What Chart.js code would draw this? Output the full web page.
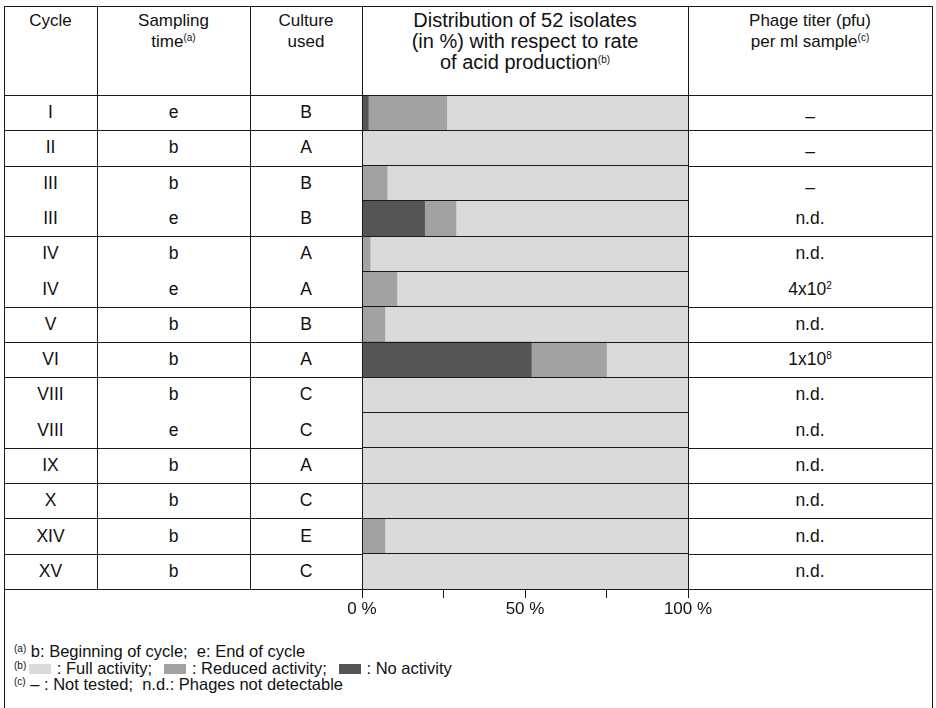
<!DOCTYPE html>
<html>
<head>
<meta charset="utf-8">
<script src="https://cdn.jsdelivr.net/npm/chart.js@4/dist/chart.umd.min.js"></script>
<style>
  html, body { margin: 0; padding: 0; background: #fff; }
  body { width: 936px; height: 708px; position: relative; overflow: hidden;
         font-family: "Liberation Sans", Arial, Helvetica, sans-serif; color: #111; }
  .ln { position: absolute; background: #1a1a1a; }
  .cell { position: absolute; text-align: center; font-size: 17.5px; line-height: 21px; white-space: nowrap; }
  .hd { position: absolute; text-align: center; font-size: 17px; line-height: 21px; white-space: nowrap; }
  .hd.big { font-size: 20px; }
  sup { font-size: 10px; line-height: 0; vertical-align: 6px; }
  .dash { position: relative; top: 4px; }
  #chart-wrap { position: absolute; left: 322px; top: 93px; width: 406px; height: 536px; }
  .notes { position: absolute; left: 14px; top: 643px; font-size: 16.5px; line-height: 16.5px; white-space: nowrap; }
  .notes sup { font-size: 10px; vertical-align: 5px; }
  .sw { display: inline-block; width: 22px; height: 10px; vertical-align: 0px; margin: 0 1px 0 3px; }
</style>
</head>
<body>
<div id="table"></div>
<div id="chart-wrap"><canvas id="chart-dist" width="406" height="536"></canvas></div>
<div class="notes" id="notes"></div>

<script>
// ---- Data ----

const cycles   = ['I', 'II', 'III', 'III', 'IV', 'IV', 'V', 'VI', 'VIII', 'VIII', 'IX', 'X', 'XIV', 'XV']
const sampling = ['e', 'b', 'b', 'e', 'b', 'e', 'b', 'b', 'b', 'e', 'b', 'b', 'b', 'b']
const culture  = ['B', 'A', 'B', 'B', 'A', 'A', 'B', 'A', 'C', 'C', 'A', 'C', 'E', 'C']
const phageTiter = ['–', '–', '–', 'n.d.', 'n.d.', '4x10^2', 'n.d.', '1x10^8', 'n.d.', 'n.d.', 'n.d.', 'n.d.', 'n.d.', 'n.d.']

// % of 52 isolates
const noActivity      = [1.9, 0, 0, 19.2, 0, 0, 0, 51.9, 0, 0, 0, 0, 0, 0]
const reducedActivity = [24.1, 0, 7.7, 9.6, 2.5, 10.7, 7.0, 23.1, 0, 0, 0, 0, 7.0, 0]
const fullActivity    = [74.0, 100, 92.3, 71.2, 97.5, 89.3, 93.0, 25.0, 100, 100, 100, 100, 93.0, 100]

const xTicks = [0, 25, 50, 75, 100]
const xTickLabels = ['0 %', '', '50 %', '', '100 %']

const colors = { full: '#dadada', reduced: '#a2a2a2', none: '#555555' }

// ---- Table layout ----

const TOP = 6, HEAD_BOTTOM = 95, ROW_H = 35.29
const COLS = [4, 97, 250, 362, 688, 932]
const rowTop = i => HEAD_BOTTOM + i * ROW_H
const TABLE_BOTTOM = rowTop(cycles.length)

const table = document.getElementById('table')

function addLine(x, y, w, h) {
  const d = document.createElement('div')
  d.className = 'ln'
  d.style.cssText = `left:${x}px;top:${y}px;width:${w}px;height:${h}px`
  table.appendChild(d)
}

function addText(cls, x1, x2, y, html) {
  const d = document.createElement('div')
  d.className = cls
  d.style.cssText = `left:${x1}px;width:${x2 - x1}px;top:${y}px`
  d.innerHTML = html
  table.appendChild(d)
}

// outer frame + column dividers
addLine(COLS[0], TOP, COLS[5] - COLS[0] + 1, 1)
addLine(COLS[0], TOP, 1, 708 - TOP)
addLine(COLS[5], TOP, 1, 708 - TOP)
for (const x of COLS.slice(1, 5)) addLine(x, TOP, 1, TABLE_BOTTOM - TOP)
addLine(COLS[0], HEAD_BOTTOM, COLS[5] - COLS[0], 1)
addLine(COLS[0], Math.round(TABLE_BOTTOM), COLS[5] - COLS[0], 1)

// row lines outside the chart column: only where the cycle changes
for (let i = 1; i < cycles.length; i++) {
  if (cycles[i] === cycles[i - 1]) continue
  const y = Math.round(rowTop(i))
  addLine(COLS[0], y, COLS[3] - COLS[0], 1)
  addLine(COLS[4], y, COLS[5] - COLS[4], 1)
}

// header
const headers = [
  ['Cycle'],
  ['Sampling', 'time<sup>(a)</sup>'],
  ['Culture', 'used'],
  ['Distribution of 52 isolates', '(in %) with respect to rate', 'of acid production<sup>(b)</sup>'],
  ['Phage titer (pfu)', 'per ml sample<sup>(c)</sup>']
]
headers.forEach((lines, c) => {
  addText(c === 3 ? 'hd big' : 'hd', COLS[c], COLS[c + 1], 10, lines.join('<br>'))
})

// cells
const fmtTiter = s => s === '–' ? '<span class="dash">–</span>' : s.replace(/\^(\d+)/, '<sup>$1</sup>')
cycles.forEach((cy, i) => {
  const y = rowTop(i) + ROW_H / 2 - 10.5
  addText('cell', COLS[0], COLS[1], y, cy)
  addText('cell', COLS[1], COLS[2], y, sampling[i])
  addText('cell', COLS[2], COLS[3], y, culture[i])
  addText('cell', COLS[4], COLS[5], y, fmtTiter(phageTiter[i]))
})

// footnotes
const sw = c => `<span class="sw" style="background:${c}"></span>`
document.getElementById('notes').innerHTML =
  '<sup>(a)</sup> b: Beginning of cycle;&nbsp; e: End of cycle<br>' +
  `<sup>(b)</sup>${sw(colors.full)} : Full activity;&nbsp; ${sw(colors.reduced)} : Reduced activity;&nbsp; ${sw(colors.none)} : No activity<br>` +
  '<sup>(c)</sup> – : Not tested;&nbsp; n.d.: Phages not detectable'

// ---- Chart ----

const ctx = document.getElementById('chart-dist').getContext('2d')
new Chart(ctx, {
  type: 'bar',
  data: {
    labels: cycles.map((c, i) => c + ' ' + sampling[i]),
    datasets: [
      { label: 'No activity',      data: noActivity,      backgroundColor: colors.none },
      { label: 'Reduced activity', data: reducedActivity, backgroundColor: colors.reduced },
      { label: 'Full activity',    data: fullActivity,    backgroundColor: colors.full }
    ]
  },
  options: {
    indexAxis: 'y',
    responsive: false,
    animation: false,
    events: [],
    datasets: { bar: { categoryPercentage: 1, barPercentage: 1, borderWidth: 0 } },
    layout: { padding: { left: 40, right: 40, top: 2, bottom: 0 } },
    plugins: { legend: { display: false }, tooltip: { enabled: false } },
    scales: {
      x: {
        stacked: true,
        min: 0,
        max: 100,
        afterBuildTicks: s => { s.ticks = xTicks.map(v => ({ value: v })) },
        afterFit: s => { s.height = 40 },
        border: { display: true, color: '#1a1a1a', width: 1, z: 1 },
        grid: { drawOnChartArea: false, drawTicks: true, tickLength: 9, color: '#1a1a1a' },
        ticks: {
          padding: 1,
          color: '#111',
          font: { family: '"Liberation Sans", Arial, sans-serif', size: 17 },
          maxRotation: 0,
          autoSkip: false,
          callback: (v, i) => xTickLabels[i]
        }
      },
      y: {
        stacked: true,
        border: { display: true, color: '#1a1a1a', width: 1, z: 1 },
        grid: { display: true, offset: true, drawTicks: false, color: '#1a1a1a', lineWidth: 1, z: 1 },
        ticks: { display: false }
      }
    }
  }
})
</script>
</body>
</html>
